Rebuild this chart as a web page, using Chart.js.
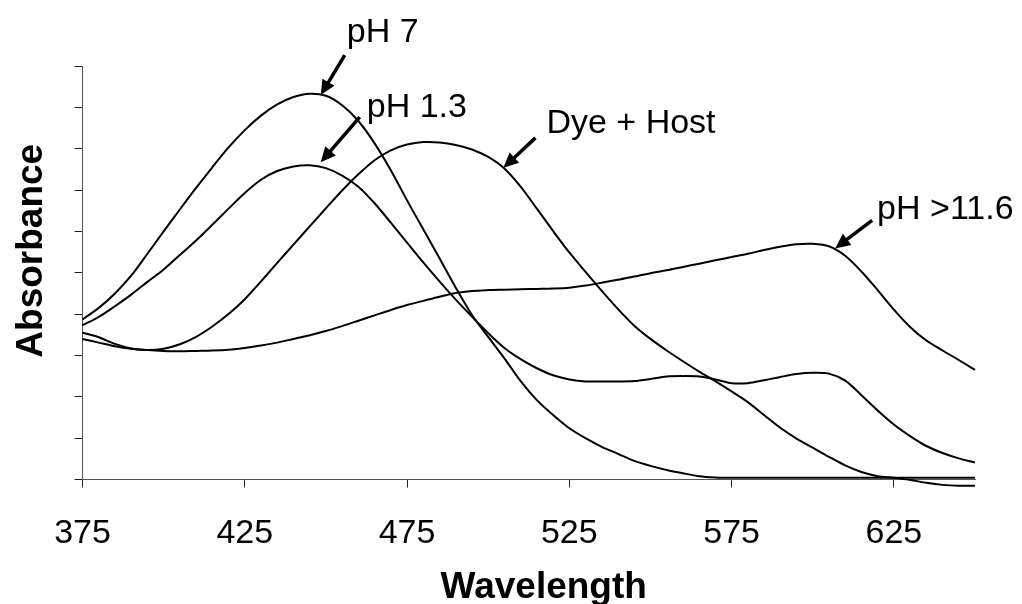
<!DOCTYPE html>
<html>
<head>
<meta charset="utf-8">
<script src="https://cdn.jsdelivr.net/npm/chart.js@4.4.0/dist/chart.umd.min.js"></script>
<style>
  html, body { margin: 0; padding: 0; background: #ffffff; }
  #wrap { width: 1022px; height: 604px; }
</style>
</head>
<body>
<div id="wrap"><canvas id="spectra" width="1022" height="604"></canvas></div>
<script>
// Absorption spectra of the dye, wavelength in nm
const wavelengths = [
  375, 380, 385, 390, 395, 400, 405, 410, 415, 420,
  425, 430, 435, 440, 445, 450, 455, 460, 465, 470,
  475, 480, 485, 490, 495, 500, 505, 510, 515, 520,
  525, 530, 535, 540, 545, 550, 555, 560, 565, 570,
  575, 580, 585, 590, 595, 600, 605, 610, 615, 620,
  625, 630, 635, 640, 645, 650
];

const absPH7 = [
  0.387, 0.415, 0.450, 0.493, 0.546, 0.600, 0.653, 0.705, 0.755, 0.803,
  0.845, 0.880, 0.907, 0.925, 0.933, 0.928, 0.905, 0.867, 0.813, 0.748,
  0.675, 0.605, 0.535, 0.464, 0.398, 0.345, 0.293, 0.238, 0.192, 0.156,
  0.124, 0.100, 0.079, 0.062, 0.045, 0.033, 0.023, 0.015, 0.008, 0.005,
  0.004, 0.004, 0.004, 0.004, 0.004, 0.004, 0.004, 0.004, 0.004, 0.004,
  0.004, 0.004, 0.004, 0.004, 0.004, 0.004
];

const absPH13 = [
  0.373, 0.393, 0.419, 0.447, 0.478, 0.508, 0.543, 0.578, 0.616, 0.655,
  0.693, 0.725, 0.746, 0.757, 0.760, 0.753, 0.735, 0.708, 0.668, 0.621,
  0.573, 0.525, 0.479, 0.435, 0.394, 0.354, 0.318, 0.291, 0.269, 0.252,
  0.242, 0.237, 0.237, 0.237, 0.238, 0.243, 0.249, 0.250, 0.249, 0.242,
  0.233, 0.233, 0.240, 0.248, 0.255, 0.258, 0.256, 0.239, 0.204, 0.167,
  0.133, 0.105, 0.081, 0.064, 0.051, 0.041
];

const absDyeHost = [
  0.355, 0.344, 0.328, 0.317, 0.313, 0.316, 0.327, 0.345, 0.370, 0.400,
  0.436, 0.479, 0.524, 0.568, 0.612, 0.656, 0.699, 0.738, 0.772, 0.796,
  0.810, 0.816, 0.815, 0.809, 0.798, 0.780, 0.752, 0.708, 0.655, 0.601,
  0.549, 0.502, 0.456, 0.412, 0.372, 0.340, 0.312, 0.286, 0.261, 0.238,
  0.213, 0.187, 0.156, 0.125, 0.099, 0.077, 0.055, 0.034, 0.018, 0.008,
  0.004, -0.001, -0.008, -0.013, -0.015, -0.015
];

const absPH116 = [
  0.340, 0.331, 0.322, 0.316, 0.313, 0.311, 0.310, 0.311, 0.312, 0.314,
  0.318, 0.324, 0.331, 0.340, 0.349, 0.359, 0.371, 0.384, 0.397, 0.410,
  0.422, 0.432, 0.442, 0.451, 0.456, 0.458, 0.459, 0.460, 0.461, 0.462,
  0.464, 0.469, 0.476, 0.483, 0.491, 0.499, 0.506, 0.514, 0.522, 0.530,
  0.538, 0.546, 0.555, 0.563, 0.569, 0.570, 0.564, 0.541, 0.503, 0.458,
  0.411, 0.369, 0.336, 0.312, 0.289, 0.265
];

const xTickValues = [375, 425, 475, 525, 575, 625];

// Curve labels and the wavelength each arrow points at
const seriesNames = ['pH 7', 'pH 1.3', 'Dye + Host', 'pH >11.6'];
const seriesValues = [absPH7, absPH13, absDyeHost, absPH116];
const arrowWavelengths = [448.4, 448.4, 504.7, 606.9];

// Arrow geometry in pixels: tip lift, tail offset and text offset from the tip
const arrowLayout = [
  { lift: 0,    tail: [24, -40], text: [26, -53] },
  { lift: -5,   tail: [39, -45], text: [46, -45] },
  { lift: 0,    tail: [32, -30], text: [43, -35] },
  { lift: -1.5, tail: [37, -28], text: [42, -29] }
];

const FONT = '"Liberation Sans", Arial, Helvetica, sans-serif';

function valueAt(values, w) {
  for (let i = 0; i < wavelengths.length - 1; i++) {
    const a = wavelengths[i], b = wavelengths[i + 1];
    if (w >= a && w <= b) {
      const t = (w - a) / (b - a);
      return values[i] + t * (values[i + 1] - values[i]);
    }
  }
  return values[values.length - 1];
}

function drawArrow(ctx, x0, y0, x1, y1) {
  const ang = Math.atan2(y1 - y0, x1 - x0);
  const headLen = 15, headHalf = 7;
  const bx = x1 - headLen * Math.cos(ang);
  const by = y1 - headLen * Math.sin(ang);
  ctx.lineWidth = 3.5;
  ctx.lineCap = 'butt';
  ctx.beginPath();
  ctx.moveTo(x0, y0);
  ctx.lineTo(bx + Math.cos(ang), by + Math.sin(ang));
  ctx.stroke();
  ctx.beginPath();
  ctx.moveTo(x1, y1);
  ctx.lineTo(bx + headHalf * Math.sin(ang), by - headHalf * Math.cos(ang));
  ctx.lineTo(bx - headHalf * Math.sin(ang), by + headHalf * Math.cos(ang));
  ctx.closePath();
  ctx.fill();
}

const curveLabels = {
  id: 'curveLabels',
  afterDatasetsDraw(chart) {
    const ctx = chart.ctx;
    const xs = chart.scales.x, ys = chart.scales.y;
    ctx.save();
    ctx.fillStyle = '#000';
    ctx.strokeStyle = '#000';
    seriesNames.forEach((name, i) => {
      const w = arrowWavelengths[i];
      const lay = arrowLayout[i];
      const tipX = xs.getPixelForValue(w);
      const tipY = ys.getPixelForValue(valueAt(seriesValues[i], w)) + lay.lift;
      drawArrow(ctx, tipX + lay.tail[0], tipY + lay.tail[1], tipX, tipY);
      ctx.font = '34px ' + FONT;
      ctx.textAlign = 'left';
      ctx.textBaseline = 'alphabetic';
      ctx.fillText(name, tipX + lay.text[0], tipY + lay.text[1]);
    });
    ctx.restore();
  }
};

const axisTitles = {
  id: 'axisTitles',
  afterDraw(chart) {
    const ctx = chart.ctx;
    const area = chart.chartArea;
    ctx.save();
    ctx.fillStyle = '#000';
    ctx.font = 'bold 37px ' + FONT;
    ctx.textAlign = 'center';
    ctx.textBaseline = 'alphabetic';
    ctx.fillText('Wavelength', (area.left + area.right) / 2 + 15, 598);
    ctx.translate(41.5, (area.top + area.bottom) / 2 - 22);
    ctx.rotate(-Math.PI / 2);
    ctx.fillText('Absorbance', 0, 0);
    ctx.restore();
  }
};

function series(values, name) {
  return {
    label: name,
    data: wavelengths.map((w, i) => ({ x: w, y: values[i] })),
    borderColor: '#000000',
    borderWidth: 2,
    pointRadius: 0,
    fill: false,
    tension: 0.3,
    clip: { left: 4, right: 4, top: 4, bottom: 12 }
  };
}

new Chart(document.getElementById('spectra'), {
  type: 'line',
  data: {
    datasets: seriesValues.map((v, i) => series(v, seriesNames[i]))
  },
  options: {
    responsive: false,
    animation: false,
    events: [],
    layout: { padding: { top: 66, right: 47, bottom: 0, left: 0 } },
    plugins: {
      legend: { display: false },
      tooltip: { enabled: false }
    },
    scales: {
      x: {
        type: 'linear',
        min: 375,
        max: 650,
        afterBuildTicks(scale) {
          scale.ticks = xTickValues.map(v => ({ value: v }));
        },
        afterFit(scale) { scale.height = 124.5; },
        border: { display: true, color: '#555555', width: 1 },
        grid: { drawOnChartArea: false, drawTicks: true, tickLength: 8, color: '#222222', lineWidth: 1 },
        ticks: {
          color: '#000000',
          font: { family: FONT, size: 34 },
          padding: 26,
          maxRotation: 0,
          autoSkip: false
        }
      },
      y: {
        type: 'linear',
        min: 0,
        max: 1,
        afterFit(scale) { scale.width = 82.5; },
        border: { display: true, color: '#555555', width: 1 },
        grid: { drawOnChartArea: false, drawTicks: true, tickLength: 8, color: '#222222', lineWidth: 1 },
        ticks: { display: false, stepSize: 0.1 }
      }
    }
  },
  plugins: [curveLabels, axisTitles]
});
</script>
</body>
</html>
